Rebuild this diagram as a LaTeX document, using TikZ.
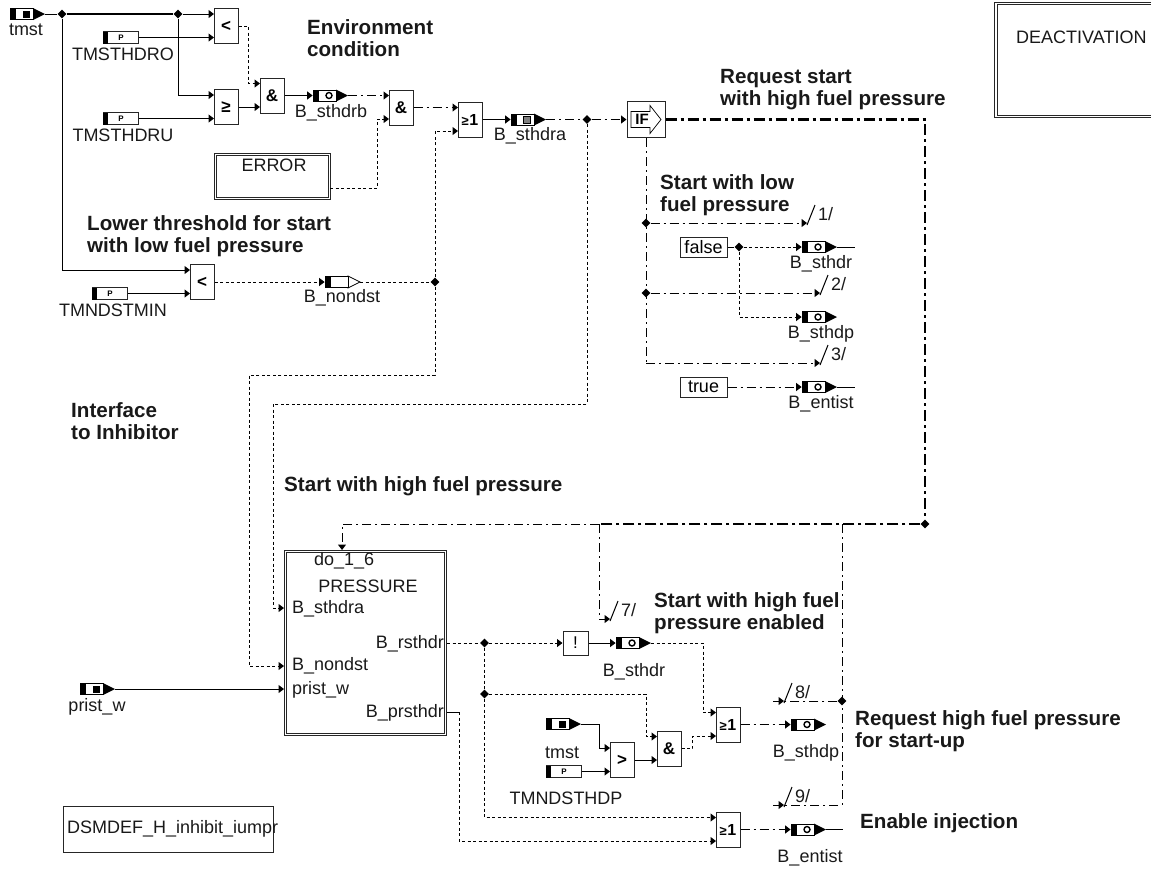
\documentclass[tikz,border=0pt]{standalone}
\usepackage{fontspec}
\setmainfont{Liberation Sans}
\usetikzlibrary{arrows.meta,positioning,calc,shapes.geometric}
\newcommand{\geone}{{\fontsize{13}{13}\selectfont ≥\hspace{0.5pt}\textbf{\fontsize{16}{16}\selectfont 1}}}
\tikzset{
  sig/.style={line width=1pt,black},
  tip/.style={-{Triangle[length=5.5pt,width=8pt]}},
  dotsig/.style={sig,dash pattern=on 3pt off 2.5pt},
  dashsig/.style={sig,dash pattern=on 9pt off 4pt on 2pt off 4pt},
  heavysig/.style={line width=2.2pt,black,dash pattern=on 11pt off 4pt on 3pt off 4pt},
  gate/.style={draw=black!85,line width=1pt,fill=white,minimum width=24pt,minimum height=35pt,inner sep=0pt,font=\fontsize{17}{17}\selectfont\bfseries},
  srcbody/.style={draw=black,line width=0.8pt,fill=white,minimum width=23pt,minimum height=11pt,inner sep=0pt},
  parbody/.style={draw=black!85,line width=1pt,fill=white,minimum width=35pt,minimum height=12pt,inner sep=0pt},
  mkring/.style={draw,circle,line width=1.4pt,minimum size=6pt,inner sep=0pt},
  mksq/.style={draw,line width=0.9pt,minimum size=7pt,inner sep=0pt,fill=black!50},
  mkarr/.style={fill=black,minimum size=7pt,inner sep=0pt},
  junc/.style={diamond,fill=black,minimum size=9pt,inner sep=0pt},
  dblbox/.style={draw=black!85,double=white,double distance=1.6pt,line width=1pt,inner sep=0pt},
  txtbox/.style={draw=black!85,line width=1pt,fill=white,minimum width=47pt,minimum height=20pt,inner sep=0pt},
  lbl/.style={inner sep=0pt,text=black!90},
  captxt/.style={inner sep=0pt,anchor=west,align=left,font=\fontsize{20.6}{22}\selectfont\bfseries,text=black!90},
}
\begin{document}
\begin{tikzpicture}[x=1pt,y=-1pt,every node/.style={font=\fontsize{18}{22}\selectfont}]
\useasboundingbox (0,0) rectangle (1151,871);
% gates
\foreach \n/\x/\y/\t in {lta/214/8.5/<,gea/214/89.5/≥,anda/260/78/\&,andb/389/90/\&,ora/458/102/\geone,ltb/190/264.5/<,gtb/610/742.5/>,andc/657/731/\&,orb/716/707/\geone,orc/716/812/\geone}{
  \node[gate] (\n) at (\x+12,\y+17.5) {\t};
  \coordinate (\n-a) at (\x,\y+5.5);
  \coordinate (\n-b) at (\x,\y+29);
}
\node[gate,minimum width=25pt,minimum height=24pt,font=\fontsize{17}{17}\selectfont] (inv) at (575.5,643) {!};
% signal blocks
\foreach \n/\x/\y/\k/\t/\lx/\ly in {tmsta/10/14/mkarr/tmst/26/30,sthdrb/313/95.5/mkring/B\_sthdrb/331/113,sthdra/511/119.5/mksq/B\_sthdra/530/136,sthdr/802/247/mkring/B\_sthdr/821/264,sthdp/802/317/mkring/B\_sthdp/821/334,entist/802/387/mkring/B\_entist/821/404,pristw/80/689/mkarr/prist\_w/97/707,sthdrc/616/643/mkring/B\_sthdr/634/672,tmstb/546/724/mkarr/tmst/562/753,sthdpb/791/724.5/mkring/B\_sthdp/806/753,entistb/791/829.5/mkring/B\_entist/810/858}{
  \fill[black] (\x+23,\y-6) -- (\x+35,\y) -- (\x+23,\y+6) -- cycle;
  \coordinate (\n-o) at (\x+35,\y);
  \node[srcbody] (\n) at (\x+11.5,\y) {};
  \fill[black] (\x,\y-6) rectangle (\x+6,\y+6);
  \node[\k] (\n-m) at (\x+16,\y) {};
  \node[lbl] (\n-l) at (\lx,\ly) {\t};
}
% nondst block, hollow head
\draw[line width=0.8pt,fill=white] (348,276) -- (360,282) -- (348,288) -- cycle;
\coordinate (nondst-o) at (360,282);
\node[srcbody] (nondst) at (336.5,282) {};
\fill[black] (325,276) rectangle (331,288);
\node[lbl] (nondst-l) at (342,298) {B\_nondst};
% parameters
\foreach \n/\x/\y/\t/\lx/\ly in {thdro/103/37.5/TMSTHDRO/123/54,thdru/103/118.5/TMSTHDRU/123/135,ndmin/92/293.5/TMNDSTMIN/113/310,ndthdp/546/771.5/TMNDSTHDP/566/798}{
  \node[parbody] (\n) at (\x+17.5,\y) {};
  \fill[black] (\x,\y-6) rectangle (\x+5,\y+6);
  \node[inner sep=0pt,font=\fontsize{8}{8}\selectfont\bfseries] (\n-p) at (\x+18,\y) {P};
  \node[lbl] (\n-l) at (\lx,\ly) {\t};
}
% boxes
\node[dblbox,minimum width=114pt,minimum height=44pt] (error) at (272.5,176.5) {};
\node[lbl] (error-l) at (274,165) {ERROR};
\node[dblbox,minimum width=160pt,minimum height=183pt] (press) at (365.5,643) {};
\node[dblbox,minimum width=170pt,minimum height=113pt] (deact) at (1081,60) {};
\node[lbl,anchor=west] (deact-l) at (1016,37) {DEACTIVATION};
\node[draw=black!85,line width=1pt,minimum width=210pt,minimum height=46pt,inner sep=0pt] (dsm) at (168,829) {};
\node[lbl,anchor=west] (dsm-l) at (67,829) {DSMDEF\_H\_inhibit\_iumpr};
\node[lbl,anchor=west] (p1) at (314,561) {do\_1\_6};
\node[lbl] (p2) at (368,586) {PRESSURE};
\node[lbl,anchor=west] (p3) at (292,609) {B\_sthdra};
\node[lbl,anchor=east] (p4) at (444,644) {B\_rsthdr};
\node[lbl,anchor=west] (p5) at (292,666) {B\_nondst};
\node[lbl,anchor=west] (p6) at (292,690) {prist\_w};
\node[lbl,anchor=east] (p7) at (444,713) {B\_prsthdr};
\coordinate (press-a) at (284,608);
\coordinate (press-b) at (284,666);
\coordinate (press-c) at (284,689);
\coordinate (press-r) at (447,643);
\coordinate (press-s) at (447,712);
\coordinate (press-t) at (342,550);
% if block
\node[draw=black!85,line width=1pt,minimum width=38pt,minimum height=36pt,inner sep=0pt] (ifb) at (646,119.5) {};
\draw[line width=0.7pt] (631,111.5) -- (650,111.5) -- (650,105.5) -- (661,119.5) -- (650,133.5) -- (650,127.5) -- (631,127.5) -- cycle;
\node[inner sep=0pt,font=\fontsize{15}{15}\selectfont\bfseries] (ifb-l) at (642,119.5) {IF};
\node[txtbox] (false) at (703.5,247) {false};
\node[txtbox] (true) at (703.5,387) {true};
% junctions
\foreach \n/\x/\y in {ja/62/14,jb/178/14,jc/435/282,jd/587/119.5,je/646/223,jf/646/293,jg/739/247,jh/925/524,ji/484.5/643,jj/484.5/694,jk/842/701}{\node[junc] (\n) at (\x,\y) {};}
% tick labels
\foreach \n/\x/\y/\t in {ta/807/223/{1/},tb/820/293/{2/},tc/820/363/{3/},td/610/619/{7/},te/784/701/{8/},tf/784/805/{9/}}{
  \coordinate (\n) at (\x,\y);
  \draw[sig] (\x,\y+2) -- (\x+8,\y-18);
  \node[lbl,anchor=west] (\n-l) at (\x+11,\y-9) {\t};
}
% top row
\draw[sig] (tmsta-o) -- (ja);
\draw[line width=2.2pt] (ja) -- (jb);
\draw[sig,tip] (jb) -- (lta-a);
\draw[sig,tip] (jb) |- (gea-a);
\draw[sig,tip] (ja) |- (ltb-a);
\draw[sig,tip] (thdro) -- (lta-b);
\draw[sig,tip] (thdru) -- (gea-b);
\draw[sig,tip] (ndmin) -- (ltb-b);
\draw[dotsig,tip] (lta.east) -- ++(10,0) |- (anda-a);
\draw[sig,tip] (gea.east) -- (anda-b);
\draw[sig,tip] (anda.east) -- (sthdrb);
\draw[dashsig,tip] (sthdrb-o) -- (andb-a);
\draw[dotsig,tip] (error.east |- 0,188) -| (377,119) -- (andb-b);
\draw[dashsig,tip] (andb.east) -- (ora-a);
\draw[dotsig,tip] (jc) |- (ora-b);
\draw[sig,tip] (ora.east) -- (sthdra);
\draw[dotsig,tip] (ltb.east) -- (nondst);
\draw[dotsig] (nondst-o) -- (jc);
\draw[dashsig] (sthdra-o) -- (jd);
\draw[dashsig,tip] (jd) -- (ifb.west);
\draw[dotsig,tip] (jd) |- (273,404) |- (press-a);
\draw[dotsig,tip] (jc) |- (249,375) |- (press-b);
\draw[sig,tip] (pristw-o) -- (press-c);
% if branches
\draw[heavysig] (ifb.east) -| (jh);
\draw[dashsig] (ifb.south) -- (646,363);
\draw[dashsig,tip] (je) -- (ta);
\draw[dashsig,tip] (jf) -- (tb);
\draw[dashsig,tip] (646,363) -- (tc);
\draw[sig] (false.east) -- (jg);
\draw[dotsig,tip] (jg) -- (sthdr);
\draw[sig] (sthdr-o) -- (855,247);
\draw[dotsig,tip] (jg) |- (sthdp);
\draw[dashsig,tip] (true) -- (entist);
\draw[sig] (entist-o) -- (855,387);
% return line
\draw[heavysig] (jh) -- (599,524);
\draw[dashsig,tip] (599,524) -- (342,524) -- (press-t);
\draw[dashsig,tip] (599,524) |- (td);
\draw[dashsig] (842,524) -- (842,805) -- (773,805);
\draw[dashsig] (jk) -- (773,701);
\draw[sig,tip] (773,701) -- (te);
\draw[sig,tip] (773,805) -- (tf);
% lower logic
\draw[dotsig] (press-r) -- (ji);
\draw[dotsig,tip] (ji) -- (inv);
\draw[sig,tip] (inv) -- (sthdrc);
\draw[dotsig,tip] (sthdrc-o) -| (703,712.5) -- (orb-a);
\draw[dotsig] (ji) -- (jj);
\draw[dotsig,tip] (jj) -| (646,736.5) -- (andc-a);
\draw[dotsig,tip] (jj) |- (orc-a);
\draw[sig,tip] (tmstb-o) -| (599,748) -- (gtb-a);
\draw[sig,tip] (ndthdp) -- (gtb-b);
\draw[sig,tip] (gtb.east) -- (andc-b);
\draw[dotsig,tip] (andc.east) -- ++(11,0) |- (orb-b);
\draw[dashsig,tip] (orb.east) -- (sthdpb);
\draw[sig] (press-s) -- (459,712);
\draw[dotsig,tip] (459,712) |- (orc-b);
\draw[dashsig,tip] (orc.east) -- (entistb);
\draw[sig] (entistb-o) -- (843,829.5);
% captions
\node[captxt] (ca) at (307,38) {Environment\\condition};
\node[captxt] (cb) at (87,236) {Lower threshold for start\\with low fuel pressure};
\node[captxt] (cc) at (720,90) {Request start\\with high fuel pressure};
\node[captxt] (cd) at (660,195) {Start with low\\fuel pressure};
\node[captxt] (ce) at (71,421) {Interface\\to Inhibitor};
\node[captxt] (cf) at (284,486) {Start with high fuel pressure};
\node[captxt] (cg) at (654,613) {Start with high fuel\\pressure enabled};
\node[captxt] (ch) at (855,731) {Request high fuel pressure\\for start-up};
\node[captxt] (ci) at (860,823) {Enable injection};
\end{tikzpicture}
\end{document}
